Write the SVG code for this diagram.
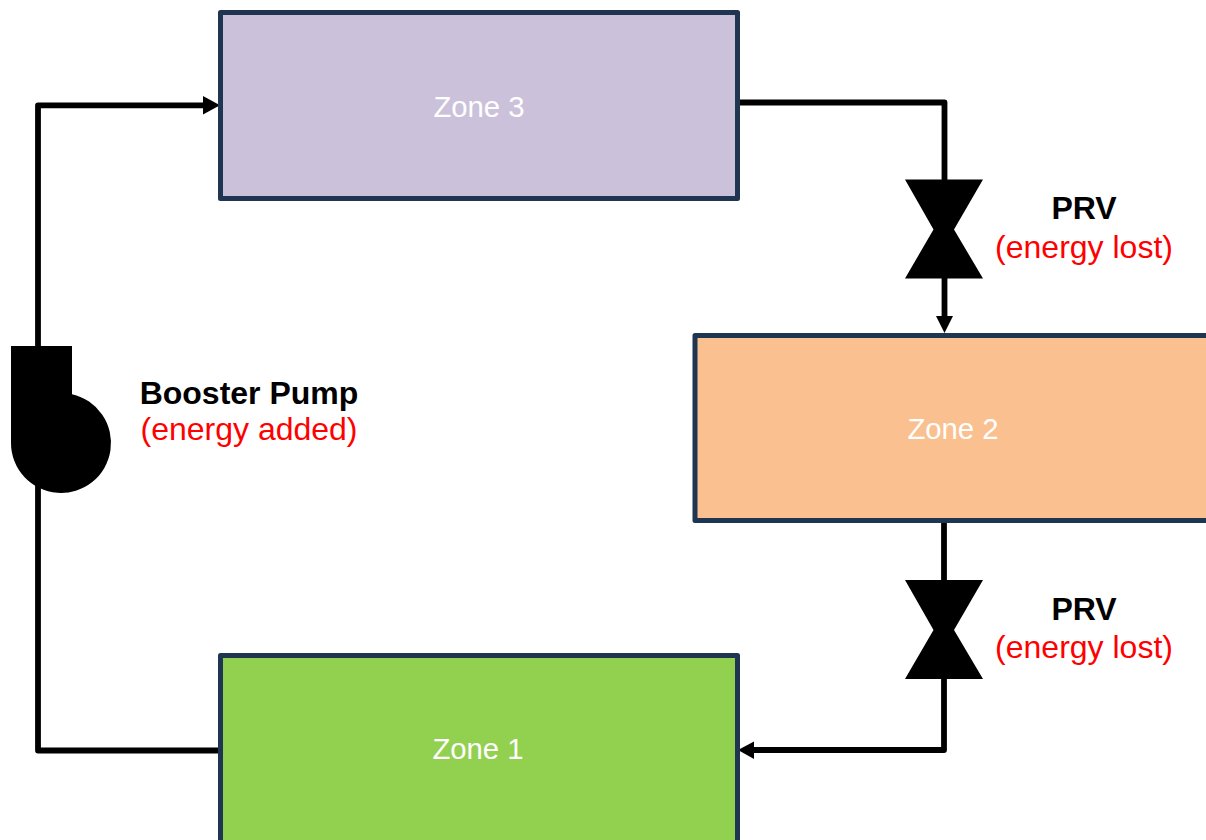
<svg xmlns="http://www.w3.org/2000/svg" width="1206" height="840" viewBox="0 0 1206 840">
<style>
.zone{stroke:#1f3552;stroke-width:5;stroke-linejoin:round}
.conn{fill:none;stroke:#000;stroke-width:5.800;stroke-linejoin:round}
.sym{fill:#000}
text{font-family:"Liberation Sans",Arial,sans-serif;text-anchor:middle}
.zt{fill:#fff;font-size:29.300px}
.b{font-weight:bold;fill:#000;font-size:32px}
.r{fill:#f00;font-size:32px}
</style>
<rect width="1206" height="840" fill="#fff"/>
<g id="connectors">
<path class="conn" d="M38 350V105.300H206"/>
<path class="conn" d="M38 475V750.500H221"/>
<path class="conn" d="M737 102.500H944.500V190"/>
<path class="conn" d="M944.500 270V320"/>
<path class="conn" d="M944 520V590"/>
<path class="conn" d="M944 670V750H752"/>
<path class="sym" d="M203 96L220 105.300L203 114.500Z"/>
<path class="sym" d="M936 316L944.500 333L953 316Z"/>
<path class="sym" d="M754 741.500L738 750L754 759Z"/>
</g>
<g id="zone3"><rect class="zone" x="220.500" y="12.500" width="517" height="186" fill="#cbc1da"/><text class="zt" x="479" y="117">Zone 3</text></g>
<g id="zone2"><rect class="zone" x="695" y="335.500" width="520" height="185" fill="#fac090"/><text class="zt" x="953" y="439">Zone 2</text></g>
<g id="zone1"><rect class="zone" x="220.500" y="655.500" width="517" height="195" fill="#92d050"/><text class="zt" x="478" y="759">Zone 1</text></g>
<g id="pump"><path class="sym" d="M11 346H72V394.200A50 50 0 1 1 11 443Z"/></g>
<g id="prv1"><path class="sym" d="M905 179.500H983L954 229.500L983 278.500H905L933.500 229.500Z"/></g>
<g id="prv2"><path class="sym" d="M905 580H983L954 630L983 679H905L933.500 630Z"/></g>
<g id="label-pump"><text class="b" x="249" y="404">Booster Pump</text><text class="r" x="249" y="440">(energy added)</text></g>
<g id="label-prv1"><text class="b" x="1084" y="219">PRV</text><text class="r" x="1084" y="258">(energy lost)</text></g>
<g id="label-prv2"><text class="b" x="1084" y="620">PRV</text><text class="r" x="1084" y="658">(energy lost)</text></g>
</svg>
